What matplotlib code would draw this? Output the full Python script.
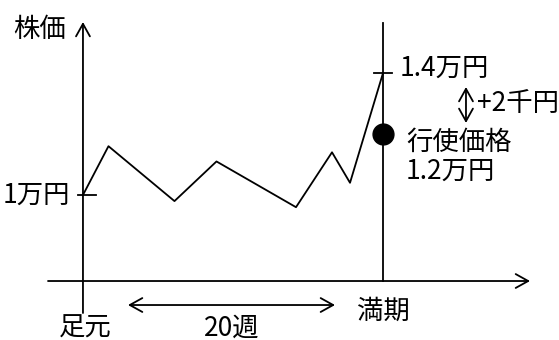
import matplotlib.pyplot as plt

plt.rcParams['font.family'] = ['Noto Sans CJK JP', 'DejaVu Sans']

###############################################################################
# Data: weeks from today vs. stock price (yen)
weeks = [0, 1.7, 6.1, 8.9, 14.2, 16.6, 17.8, 20]
price = [10000, 11600, 9800, 11100, 9600, 11400, 10400, 14000]

maturity_week = 20
strike = 12000
start_price = 10000
end_price = 14000

###############################################################################
# Plot
fig = plt.figure(figsize=(5.59, 3.40), dpi=100)
ax = fig.add_axes([0, 0, 1, 1])
ax.set_xlim(-5.53, 31.73)
ax.set_ylim(5246, 16393)
ax.axis('off')

base = 7180  # level where the time axis sits
fs = 19
arrow_kw = dict(arrowstyle='->,head_length=0.9,head_width=0.5',
                mutation_scale=10, lw=1.3, color='black',
                shrinkA=0, shrinkB=0)
both_kw = dict(arrow_kw, arrowstyle='<->,head_length=0.9,head_width=0.5')

# axes with arrows
ax.annotate('', xy=(0, 15672), xytext=(0, 6131), arrowprops=arrow_kw)
ax.annotate('', xy=(29.8, base), xytext=(-2.33, base), arrowprops=arrow_kw)

# maturity line
ax.plot([maturity_week, maturity_week], [base, 15639], color='black', lw=1.3)

# price path
ax.plot(weeks, price, color='black', lw=1.3)

# ticks at 1万円 and 1.4万円
ax.plot([-0.33, 0.87], [start_price, start_price], color='black', lw=1.3)
ax.plot([maturity_week - 0.6, maturity_week + 0.6], [end_price, end_price],
        color='black', lw=1.3)

# strike price dot
ax.plot([maturity_week], [strike], 'o', color='black', markersize=15)

# labels
ax.annotate('株価', xy=(0, 15672), xytext=(-43, -8), textcoords='offset pixels',
            ha='center', va='center', fontsize=fs)
ax.annotate('1万円', xy=(0, start_price), xytext=(-13, 0),
            textcoords='offset pixels', ha='right', va='center', fontsize=fs)
ax.annotate('1.4万円', xy=(maturity_week, end_price), xytext=(17, 5),
            textcoords='offset pixels', ha='left', va='center', fontsize=fs)
ax.annotate('行使価格', xy=(maturity_week, strike), xytext=(23, -8),
            textcoords='offset pixels', ha='left', va='center', fontsize=fs)
ax.annotate('1.2万円', xy=(maturity_week, strike), xytext=(23, -37),
            textcoords='offset pixels', ha='left', va='center', fontsize=fs)
ax.annotate('足元', xy=(0, base), xytext=(2, -47),
            textcoords='offset pixels', ha='center', va='center', fontsize=fs)
ax.annotate('満期', xy=(maturity_week, base), xytext=(0, -30),
            textcoords='offset pixels', ha='center', va='center', fontsize=fs)

# 20 weeks span
ax.annotate('', xy=(16.8, 6393), xytext=(3.0, 6393), arrowprops=both_kw)
ax.annotate('20週', xy=(9.9, 6393), xytext=(0, -23),
            textcoords='offset pixels', ha='center', va='center', fontsize=fs)

# +2千円 difference
ax.annotate('', xy=(25.53, 13541), xytext=(25.53, 12361), arrowprops=both_kw)
ax.annotate('+2千円', xy=(25.53, 13000), xytext=(11, 0),
            textcoords='offset pixels', ha='left', va='center', fontsize=fs)

fig.savefig('out.png', dpi=100)
